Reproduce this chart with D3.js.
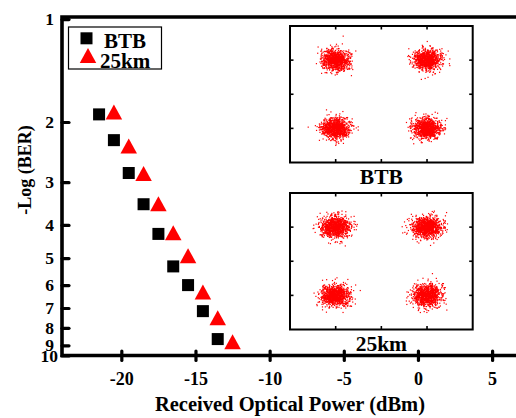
<!DOCTYPE html>
<html>
<head>
    <script src="https://cdnjs.cloudflare.com/ajax/libs/d3/7.8.5/d3.min.js"></script>
    <style>
        body { margin: 0; background: #fff; }
        svg { display: block; }
        text { font-family: "Liberation Serif", "Times New Roman", serif; font-weight: bold; fill: #000; }
    </style>
</head>
<body>
    <svg id="chart" width="516" height="418"></svg>

    <script>
        // BER curves: received optical power (dBm) vs -Log(BER)
        const powerBTB = [-21.5, -20.5, -19.5, -18.5, -17.5, -16.5, -15.5, -14.5, -13.5];
        const berBTB   = [1.90, 2.26, 2.82, 3.48, 4.25, 5.29, 6.00, 7.15, 8.63];
        const power25  = [-20.5, -19.5, -18.5, -17.5, -16.5, -15.5, -14.5, -13.5, -12.5];
        const ber25    = [1.87, 2.35, 2.83, 3.47, 4.22, 4.92, 6.29, 7.48, 8.78];

        const xTicks = [-20, -15, -10, -5, 0, 5];
        const yTicks = [1, 2, 3, 4, 5, 6, 7, 8, 9, 10];
        const seriesNames = ["BTB", "25km"];

        // constellation insets (QPSK-like): symbol centres and noise spread
        const constCenters = [[-1, 1], [1, 1], [-1, -1], [1, -1]];
        const insetNames = ["BTB", "25km"];
        const insetSpread = [0.15, 0.16];
        const insetTicks = [-1, 0, 1];

        const svg = d3.select("#chart");

        const plotLeft = 62, plotTop = 17, plotBottom = 355.5;
        const x = d3.scaleLinear().domain([-24, 8]).range([plotLeft, 536.6]);
        const y = d3.scaleLog().domain([0.986, 9.64]).range([plotTop, plotBottom]).clamp(true);

        // x axis (ticks cross the line)
        const xAxis = svg.append("g")
            .attr("transform", `translate(0,${plotBottom})`)
            .call(d3.axisBottom(x).tickValues(xTicks).tickSize(5).tickPadding(12).tickFormat(d => d));
        xAxis.select(".domain").remove();
        xAxis.selectAll(".tick line")
            .attr("y1", -4.5).attr("y2", 5)
            .attr("stroke", "#000").attr("stroke-width", 3.2).attr("stroke-linecap", "round");
        xAxis.selectAll(".tick text")
            .attr("font-size", 18);

        // y axis (ticks inward)
        const yAxis = svg.append("g")
            .attr("transform", `translate(${plotLeft},0)`)
            .call(d3.axisLeft(y).tickValues(yTicks).tickSize(-7).tickPadding(8).tickFormat(d => d));
        yAxis.select(".domain").remove();
        yAxis.selectAll(".tick line")
            .attr("stroke", "#000").attr("stroke-width", 3.2).attr("stroke-linecap", "round");
        yAxis.selectAll(".tick text")
            .attr("font-size", 17.5)
            .attr("dx", d => d === 10 ? 4 : 0);

        // frame: left, top and bottom (right edge falls off the page)
        svg.append("path")
            .attr("d", `M540,${plotTop}H${plotLeft}V${plotBottom}H540`)
            .attr("fill", "none").attr("stroke", "#000").attr("stroke-width", 3.6);

        // axis titles
        svg.append("text")
            .attr("x", 290).attr("y", 411)
            .attr("text-anchor", "middle")
            .attr("font-size", 20.5)
            .text("Received Optical Power (dBm)");

        svg.append("text")
            .attr("transform", "translate(31,170) rotate(-90)")
            .attr("text-anchor", "middle")
            .attr("font-size", 18)
            .text("-Log (BER)");

        // markers
        const sq = 12, triW = 16.5, triH = 15;
        const triPath = (cx, cy) => `M${cx},${cy - triH / 2}L${cx + triW / 2},${cy + triH / 2}L${cx - triW / 2},${cy + triH / 2}Z`;

        svg.append("g").selectAll("rect")
            .data(d3.zip(powerBTB, berBTB))
            .join("rect")
            .attr("x", d => x(d[0]) - sq / 2)
            .attr("y", d => y(d[1]) - sq / 2)
            .attr("width", sq).attr("height", sq)
            .attr("fill", "#000");

        svg.append("g").selectAll("path")
            .data(d3.zip(power25, ber25))
            .join("path")
            .attr("d", d => triPath(x(d[0]), y(d[1])))
            .attr("fill", "#ff0000");

        // legend
        const legend = svg.append("g");
        legend.append("rect")
            .attr("x", 68.5).attr("y", 27).attr("width", 93).attr("height", 42)
            .attr("fill", "#fff").attr("stroke", "#000").attr("stroke-width", 1.2);
        legend.append("rect")
            .attr("x", 86.5 - sq / 2).attr("y", 38.3 - sq / 2).attr("width", sq).attr("height", sq)
            .attr("fill", "#000");
        legend.append("path").attr("d", triPath(88, 55.5)).attr("fill", "#ff0000");
        legend.selectAll("text")
            .data(seriesNames)
            .join("text")
            .attr("x", d => d === "BTB" ? 104 : 100)
            .attr("y", (d, i) => 47.5 + i * 20.5)
            .attr("font-size", 21)
            .text(d => d);

        // constellation insets
        const insetTops = [26, 193];
        const insetH = 136.5;
        const insetX = d3.scaleLinear().domain([-2, 2]).range([290, 472.7]);

        insetNames.forEach((name, k) => {
            const iy = d3.scaleLinear().domain([2, -2]).range([insetTops[k], insetTops[k] + insetH]);
            const g = svg.append("g");
            g.append("rect")
                .attr("x", insetX(-2)).attr("y", iy(2))
                .attr("width", insetX(2) - insetX(-2)).attr("height", iy(-2) - iy(2))
                .attr("fill", "#fff");

            // seeded noise cloud around each ideal symbol
            const rnd = d3.randomNormal.source(d3.randomLcg(0.37 + k * 0.21))(0, insetSpread[k]);
            const pts = [];
            constCenters.forEach(c => {
                for (let i = 0; i < 1000; i++) pts.push([c[0] + rnd(), c[1] + rnd()]);
            });
            g.append("g").selectAll("rect")
                .data(pts)
                .join("rect")
                .attr("x", d => insetX(d[0]) - 0.6)
                .attr("y", d => iy(d[1]) - 0.6)
                .attr("width", 1.2).attr("height", 1.2)
                .attr("fill", "#ff0000");

            // inward ticks on all four sides
            const tk = 3.5;
            insetTicks.forEach(t => {
                g.append("line").attr("x1", insetX(t)).attr("x2", insetX(t))
                    .attr("y1", iy(2)).attr("y2", iy(2) + tk);
                g.append("line").attr("x1", insetX(t)).attr("x2", insetX(t))
                    .attr("y1", iy(-2)).attr("y2", iy(-2) - tk);
                g.append("line").attr("y1", iy(t)).attr("y2", iy(t))
                    .attr("x1", insetX(-2)).attr("x2", insetX(-2) + tk);
                g.append("line").attr("y1", iy(t)).attr("y2", iy(t))
                    .attr("x1", insetX(2)).attr("x2", insetX(2) - tk);
            });
            g.selectAll("line").attr("stroke", "#000").attr("stroke-width", 1.6);

            g.append("rect")
                .attr("x", insetX(-2)).attr("y", iy(2))
                .attr("width", insetX(2) - insetX(-2)).attr("height", iy(-2) - iy(2))
                .attr("fill", "none").attr("stroke", "#000").attr("stroke-width", 2);

            g.append("text")
                .attr("x", insetX(0)).attr("y", iy(-2) + 21.5)
                .attr("text-anchor", "middle")
                .attr("font-size", 21.5)
                .text(name);
        });
    </script>
</body>
</html>
